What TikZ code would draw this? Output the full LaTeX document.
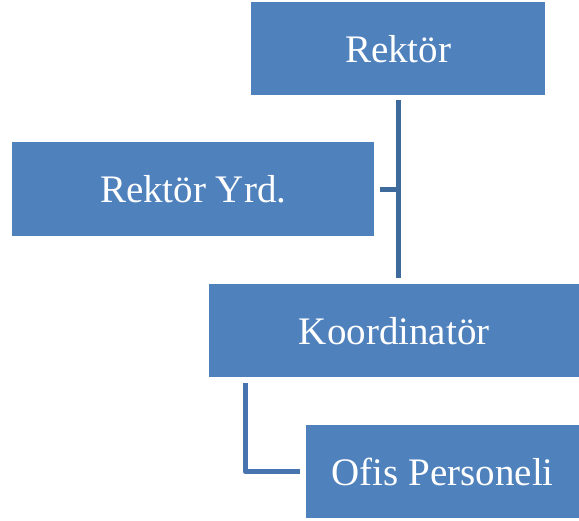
\documentclass[tikz,border=0pt]{standalone}
\usepackage{fontspec}
\setmainfont{Liberation Serif}
\definecolor{boxblue}{HTML}{4F81BD}
\definecolor{lineA}{HTML}{3F6A9C}
\definecolor{lineB}{HTML}{4773AE}
\begin{document}
\begin{tikzpicture}[x=1pt,y=-1pt,
  orgbox/.style={draw=none,fill=boxblue,text=white,inner sep=0pt,
    font=\fontsize{39}{42}\selectfont,anchor=north west},
  conn/.style={line width=5pt}]
\useasboundingbox (0,0) rectangle (579,521);
\node[orgbox,minimum width=294pt,minimum height=93pt] (r) at (251,2) {Rektör};
\node[orgbox,minimum width=362pt,minimum height=94pt] (y) at (12,142) {Rektör Yrd.};
\node[orgbox,minimum width=370pt,minimum height=93pt] (k) at (209,284) {Koordinatör};
\node[orgbox,minimum width=273pt,minimum height=93pt] (o) at (306,425) {Ofis Personeli};
\draw[conn,draw=lineA] ([yshift=-5]r.south) -- ([xshift=4,yshift=6]k.north);
\coordinate (j) at (r.south |- y.east);
\draw[conn,draw=lineA] ([xshift=6]y.east) -- (j);
\draw[conn,draw=lineB,line join=round] ([xshift=36.5,yshift=-6]k.south west) |- ([xshift=-6]o.west);
\end{tikzpicture}
\end{document}
